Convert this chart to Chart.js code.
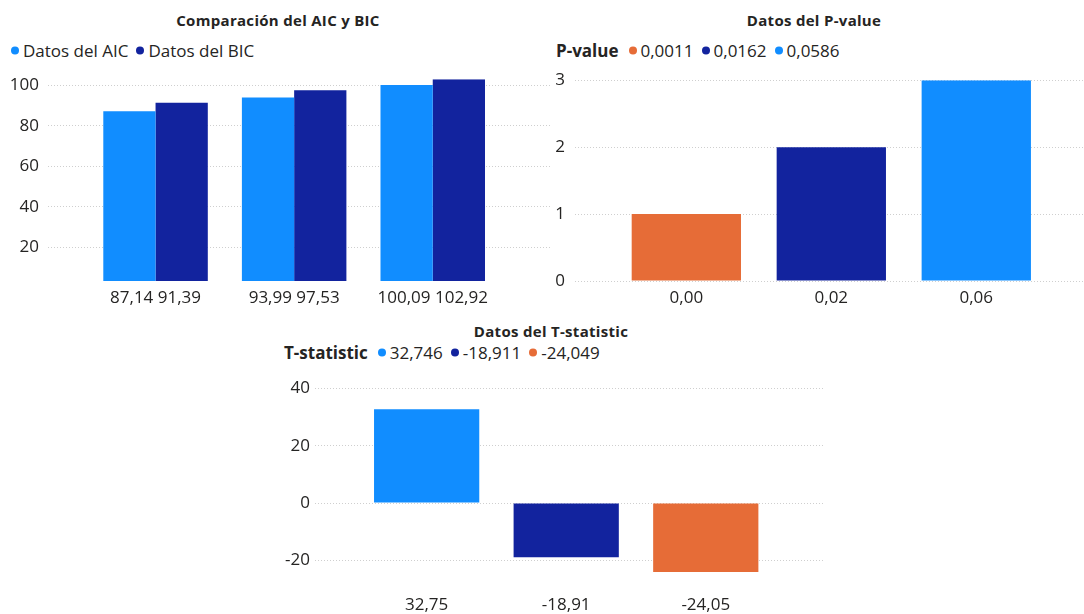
<!DOCTYPE html>
<html>
<head>
<meta charset="utf-8">
<script src="https://cdn.jsdelivr.net/npm/chart.js@4.4.1/dist/chart.umd.min.js"></script>
<style>
  html, body { margin: 0; padding: 0; width: 1084px; height: 614px; overflow: hidden; background: #fff;
    font-family: "Open Sans", sans-serif; color: #252423; }
  canvas { position: absolute; }
  .title { position: absolute; font-weight: 700; font-size: 15px; letter-spacing: 0.3px; white-space: nowrap;
    transform: translate(-50%, -50%); color: #252423; }
  .legend { position: absolute; display: flex; align-items: center; white-space: nowrap; font-size: 17px;
    transform: translateY(-50%); color: #252423; }
  .legend b { font-weight: 700; margin-right: 10px; }
  .legend .item { display: flex; align-items: center; margin-right: 8px; }
  .legend .dot { width: 8px; height: 8px; border-radius: 50%; margin-right: 4px; }
</style>
</head>
<body>
<div class="title" style="left:278px; top:20px;">Comparación del AIC y BIC</div>
<div class="title" style="left:814px; top:20px;">Datos del P-value</div>
<div class="title" style="left:551px; top:331px;">Datos del T-statistic</div>
<div class="legend" id="leg1" style="left:11px; top:50px;"></div>
<div class="legend" id="leg2" style="left:556px; top:50px;"></div>
<div class="legend" id="leg3" style="left:284px; top:352px;"></div>
<canvas id="c1" width="550" height="251" style="left:0px; top:60px;"></canvas>
<canvas id="c2" width="557" height="251" style="left:527px; top:60px;"></canvas>
<canvas id="c3" width="556" height="244" style="left:267px; top:370px;"></canvas>
<script>
// Model comparison: information criteria per model
const aicValues = [87.14, 93.99, 100.09];
const bicValues = [91.39, 97.53, 102.92];
const aicTicks = [20, 40, 60, 80, 100];

// P-values of the three coefficients and their rank
const pValues = [0.0011, 0.0162, 0.0586];
const pValueRanks = [1, 2, 3];
const pValueTicks = [0, 1, 2, 3];

// T-statistics of the same coefficients
const tStats = [32.746, -18.911, -24.049];
const tStatTicks = [-20, 0, 20, 40];

const LIGHT = '#118DFF';
const NAVY = '#12239E';
const ORANGE = '#E66C37';

const pValueColors = [ORANGE, NAVY, LIGHT];
const tStatColors = [LIGHT, NAVY, ORANGE];

const fmt = (v, d) => v.toFixed(d).replace('.', ',');

const aicLabels = aicValues.map((v, i) => fmt(v, 2) + ' ' + fmt(bicValues[i], 2));
const pValueLabels = pValues.map(v => fmt(v, 2));
const tStatLabels = tStats.map(v => fmt(v, 2));

// HTML legends
function legend(id, heading, entries) {
  const el = document.getElementById(id);
  if (heading) {
    const b = document.createElement('b');
    b.textContent = heading;
    el.appendChild(b);
  }
  entries.forEach(([color, text]) => {
    const item = document.createElement('span');
    item.className = 'item';
    const dot = document.createElement('span');
    dot.className = 'dot';
    dot.style.background = color;
    const t = document.createElement('span');
    t.textContent = text;
    item.appendChild(dot);
    item.appendChild(t);
    el.appendChild(item);
  });
}
legend('leg1', null, [[LIGHT, 'Datos del AIC'], [NAVY, 'Datos del BIC']]);
legend('leg2', 'P-value', pValues.map((v, i) => [pValueColors[i], fmt(v, 4)]));
legend('leg3', 'T-statistic', tStats.map((v, i) => [tStatColors[i], fmt(v, 3)]));

const tickFont = { family: '"Open Sans", sans-serif', size: 17 };
const tickColor = '#252423';
const gridColor = '#CFCFCF';

function buildOptions(cfg) {
  return {
    responsive: false,
    animation: false,
    layout: { padding: { top: cfg.padTop, left: 0, right: 0, bottom: 0 } },
    plugins: { legend: { display: false }, title: { display: false }, tooltip: { enabled: false } },
    datasets: { bar: { categoryPercentage: 0.754, barPercentage: 1.0 } },
    scales: {
      x: {
        type: 'linear',
        offset: false,
        min: cfg.xMin, max: cfg.xMax,
        grid: { display: false, drawTicks: false, offset: false },
        border: { display: false },
        afterBuildTicks: s => { s.ticks = cfg.labels.map((_, i) => ({ value: i })); },
        afterFit: s => { s.height = cfg.xHeight; },
        ticks: {
          autoSkip: false, maxRotation: 0, padding: cfg.xPad,
          font: tickFont, color: tickColor,
          callback: v => cfg.labels[v]
        }
      },
      y: {
        min: cfg.yMin, max: cfg.yMax,
        grid: { color: gridColor, lineWidth: 1, drawTicks: false },
        border: { display: false, dash: [1, 2] },
        afterBuildTicks: s => { s.ticks = cfg.yTicks.map(v => ({ value: v })); },
        afterFit: s => { s.width = 48; },
        ticks: { padding: cfg.yPad, font: tickFont, color: tickColor }
      }
    }
  };
}

new Chart(document.getElementById('c1'), {
  type: 'bar',
  data: {
    datasets: [
      { label: 'Datos del AIC', data: aicValues.map((v, i) => ({ x: i, y: v })), backgroundColor: LIGHT },
      { label: 'Datos del BIC', data: bicValues.map((v, i) => ({ x: i, y: v })), backgroundColor: NAVY }
    ]
  },
  options: buildOptions({ labels: aicLabels, xMin: -0.776, xMax: 2.846, yMin: 3.5, yMax: 103,
    yTicks: aicTicks, padTop: 14.5, xHeight: 30, xPad: 7, yPad: 9 })
});

new Chart(document.getElementById('c2'), {
  type: 'bar',
  data: {
    datasets: [
      { label: 'P-value', data: pValueRanks.map((v, i) => ({ x: i, y: v })), backgroundColor: pValueColors }
    ]
  },
  options: buildOptions({ labels: pValueLabels, xMin: -0.768, xMax: 2.743, yMin: 0, yMax: 3,
    yTicks: pValueTicks, padTop: 20, xHeight: 30, xPad: 7, yPad: 10 })
});

new Chart(document.getElementById('c3'), {
  type: 'bar',
  data: {
    datasets: [
      { label: 'T-statistic', data: tStats.map((v, i) => ({ x: i, y: v })), backgroundColor: tStatColors }
    ]
  },
  options: buildOptions({ labels: tStatLabels, xMin: -0.80, xMax: 2.84, yMin: -30, yMax: 40,
    yTicks: tStatTicks, padTop: 18.6, xHeight: 25, xPad: 6, yPad: 5 })
});
</script>
</body>
</html>
